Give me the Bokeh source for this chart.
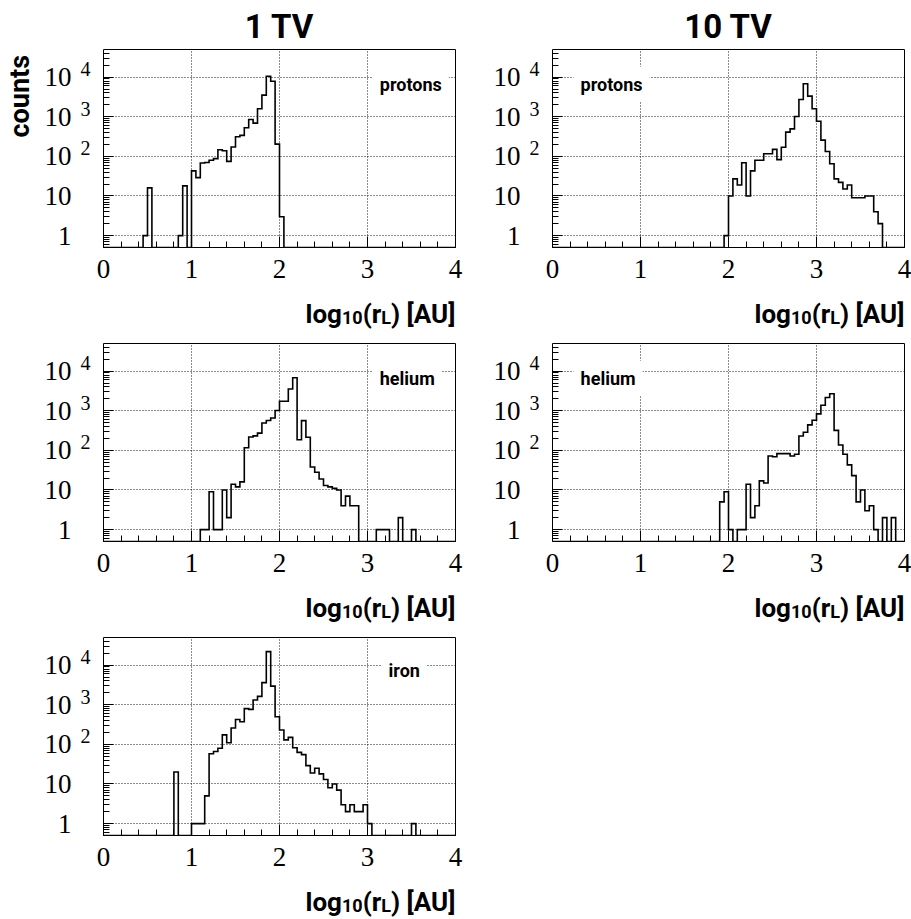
import glob
import math

import numpy as np
from bokeh.embed import file_html
from bokeh.layouts import column, row
from bokeh.models import FixedTicker, Label, LogAxis, LogScale, Range1d, SingleIntervalTicker
from bokeh.plotting import figure
from bokeh.resources import INLINE

# Binning of log10(r_L / AU): 80 bins of width 0.05 between 0 and 4
X_MIN, X_MAX, N_BINS = 0.0, 4.0, 80
Y_MIN, Y_MAX = 0.5, 5e4

# Counts per bin (bin 0 starts at log10(r_L) = 0)
protons_1tv = [
    0, 0, 0, 0, 0, 0, 0, 0, 0, 1,
    16, 0, 0, 0, 0, 0, 0, 1, 18, 0,
    43, 29, 68, 70, 80, 88, 147, 139, 75, 172,
    313, 340, 530, 855, 690, 1590, 3520, 10600, 7900, 204,
    3, 0, 0, 0, 0, 0, 0, 0, 0, 0,
    0, 0, 0, 0, 0, 0, 0, 0, 0, 0,
    0, 0, 0, 0, 0, 0, 0, 0, 0, 0,
    0, 0, 0, 0, 0, 0, 0, 0, 0, 0,
]
protons_10tv = [
    0, 0, 0, 0, 0, 0, 0, 0, 0, 0,
    0, 0, 0, 0, 0, 0, 0, 0, 0, 0,
    0, 0, 0, 0, 0, 0, 0, 0, 0, 0,
    0, 0, 0, 0, 0, 0, 0, 0, 0, 1,
    10, 27, 19, 69, 10, 43, 80, 80, 117, 117,
    150, 83, 170, 410, 495, 1020, 2740, 6800, 3320, 1600,
    770, 258, 133, 65, 27, 22, 15, 19, 9, 9,
    9, 10, 10, 4, 2, 0, 0, 0, 0, 0,
]
helium_1tv = [
    0, 0, 0, 0, 0, 0, 0, 0, 0, 0,
    0, 0, 0, 0, 0, 0, 0, 0, 0, 0,
    0, 0, 1, 1, 9, 1, 1, 10, 2, 14,
    12, 16, 117, 217, 232, 272, 490, 568, 655, 1020,
    1735, 1735, 3540, 6850, 186, 565, 215, 38, 28, 19,
    13, 12, 11, 10, 4, 7, 4, 4, 0, 0,
    0, 0, 1, 1, 1, 0, 0, 2, 0, 0,
    1, 0, 0, 0, 0, 0, 0, 0, 0, 0,
]
helium_10tv = [
    0, 0, 0, 0, 0, 0, 0, 0, 0, 0,
    0, 0, 0, 0, 0, 0, 0, 0, 0, 0,
    0, 0, 0, 0, 0, 0, 0, 0, 0, 0,
    0, 0, 0, 0, 0, 0, 0, 0, 5, 9,
    1, 0, 1, 1, 14, 2, 4, 17, 15, 72,
    69, 83, 83, 83, 72, 80, 230, 288, 440, 575,
    835, 1380, 2170, 2690, 320, 137, 80, 43, 23, 5,
    10, 3, 4, 1, 0, 2, 0, 2, 0, 0,
]
iron_1tv = [
    0, 0, 0, 0, 0, 0, 0, 0, 0, 0,
    0, 0, 0, 0, 0, 0, 20, 0, 0, 0,
    1, 1, 1, 5, 58, 66, 80, 174, 110, 260,
    425, 372, 800, 765, 1320, 1630, 3620, 22000, 2950, 500,
    230, 130, 150, 82, 63, 55, 29, 19, 25, 18,
    13, 8, 10, 7, 3, 2, 3, 2, 2, 3,
    1, 0, 0, 0, 0, 0, 0, 0, 0, 0,
    1, 0, 0, 0, 0, 0, 0, 0, 0, 0,
]

column_titles = ["1 TV", "10 TV"]
species = ["protons", "helium", "iron"]
y_major_ticks = [1, 10, 100, 1000, 10000]
y_label_base = {1: "1", 10: "10", 100: "10", 1000: "10", 10000: "10"}
y_label_exponent = {100: "2", 1000: "3", 10000: "4"}
x_title_pieces = [("log", False), ("10", True), ("(r", False), ("L", True), (") [AU]", False)]
y_title = "counts"

SANS = "Roboto"
SERIF = "Liberation Serif"

# page geometry (pixels)
FRAME_W, FRAME_H = 352, 198
COL_LEFT = [103, 87]          # left border of each column's panel
COL_RIGHT = [10, 7]
TOP_FIRST, TOP_OTHER, BOTTOM = 49, 13, 45
STRIP_H = [38, 38, 39]        # strip under each row holding the x titles
COUNTS_W = 40                 # strip left of the first panel holding "counts"
PX_PER_DECADE = FRAME_H / math.log10(Y_MAX / Y_MIN)


def _font_file():
    for pat in ("/usr/share/fonts/**/Roboto-Bold.ttf",
                "/usr/share/fonts/**/Roboto*Bold*.ttf",
                "/usr/local/share/fonts/**/Roboto*Bold*.ttf",
                "/usr/share/fonts/**/Roboto*.ttf"):
        hits = sorted(glob.glob(pat, recursive=True))
        if hits:
            return hits[0]
    return None


_FONT_PATH = _font_file()


def text_width(txt, size):
    try:
        from PIL import ImageFont
        return ImageFont.truetype(_FONT_PATH, size).getlength(txt)
    except Exception:
        return 0.56 * size * len(txt)


def blank(w, h):
    """A plain white canvas measured in pixels, used to hold free text."""
    d = figure(frame_width=w, frame_height=h, x_range=Range1d(0, w), y_range=Range1d(0, h),
               x_axis_location=None, y_axis_location=None,
               output_backend="svg", toolbar_location=None, min_border=0,
               outline_line_color=None, background_fill_color="white",
               border_fill_color="white")
    try:
        d.title = None
    except Exception:
        d.title.visible = False
    d.grid.visible = False
    return d


def style_axis(ax, size, standoff):
    ax.axis_line_color = None
    ax.major_label_text_font = SERIF
    ax.major_label_text_font_size = f"{size}px"
    ax.major_label_text_color = "black"
    ax.major_label_standoff = standoff


def make_panel(counts, name, col, row_idx):
    top = TOP_FIRST if row_idx == 0 else TOP_OTHER
    left = COL_LEFT[col] - (COUNTS_W if (col == 0 and row_idx == 0) else 0)
    p = figure(frame_width=FRAME_W, frame_height=FRAME_H,
               x_range=Range1d(X_MIN, X_MAX), y_range=Range1d(Y_MIN, Y_MAX),
               y_axis_type="log", output_backend="svg", toolbar_location=None,
               min_border_left=left, min_border_right=COL_RIGHT[col],
               min_border_top=top, min_border_bottom=BOTTOM,
               background_fill_color="white", border_fill_color="white",
               outline_line_color="black", outline_line_width=1)

    if row_idx == 0:
        p.title.text = column_titles[col]
        p.title.align = "center"
        p.title.text_font = SANS
        p.title.text_font_style = "bold"
        p.title.text_font_size = "33px"
        p.title.text_color = "black"
        p.title.standoff = 7

    # x axis: integer labels, ticks drawn inside the frame
    xa = p.xaxis[0]
    xa.ticker = SingleIntervalTicker(interval=1, num_minor_ticks=5)
    xa.major_tick_in, xa.major_tick_out = 11, 0
    xa.minor_tick_in, xa.minor_tick_out = 6, 0
    xa.major_tick_line_color = "black"
    xa.minor_tick_line_color = "black"
    style_axis(xa, 27, 12)

    # y axis: tick marks only; labels come from the two outer axes
    minor = []
    for decade in (0.1, 1, 10, 100, 1000, 10000):
        for k in range(2, 10):
            v = k * decade
            if Y_MIN < v < Y_MAX and v not in y_major_ticks:
                minor.append(v)
    ya = p.yaxis[0]
    ya.ticker = FixedTicker(ticks=y_major_ticks, minor_ticks=minor)
    ya.major_label_overrides = {v: "" for v in y_major_ticks}
    ya.major_tick_in, ya.major_tick_out = 10, 0
    ya.minor_tick_in, ya.minor_tick_out = 6, 0
    ya.major_tick_line_color = "black"
    ya.minor_tick_line_color = "black"
    style_axis(ya, 27, 0)

    # exponents, raised above their decade
    raise_dec = 8 / PX_PER_DECADE
    p.extra_y_ranges = {"exp": Range1d(Y_MIN * 10 ** -raise_dec, Y_MAX * 10 ** -raise_dec)}
    p.extra_y_scales = {"exp": LogScale()}
    exp_axis = LogAxis(y_range_name="exp",
                       ticker=FixedTicker(ticks=list(y_label_exponent)),
                       major_label_overrides=y_label_exponent,
                       major_tick_in=0, major_tick_out=0,
                       minor_tick_in=0, minor_tick_out=0)
    style_axis(exp_axis, 20, 13)
    p.add_layout(exp_axis, "left")

    base_axis = LogAxis(ticker=FixedTicker(ticks=y_major_ticks),
                        major_label_overrides=y_label_base,
                        major_tick_in=0, major_tick_out=0,
                        minor_tick_in=0, minor_tick_out=0)
    style_axis(base_axis, 27, 6)
    p.add_layout(base_axis, "left")

    for g in (p.xgrid[0], p.ygrid[0]):
        g.grid_line_color = "black"
        g.grid_line_dash = "1 2"
        g.grid_line_width = 1
        g.grid_line_alpha = 0.9

    # histogram outline; empty bins sit on the lower edge of the frame
    edges = np.linspace(X_MIN, X_MAX, N_BINS + 1)
    c = np.asarray(counts, dtype=float)
    c = np.where(c > 0, c, Y_MIN)
    xs = np.concatenate([[edges[0]], np.repeat(edges, 2)[1:-1], [edges[-1]]])
    ys = np.concatenate([[Y_MIN], np.repeat(c, 2), [Y_MIN]])
    p.line(xs, ys, line_color="black", line_width=1.6, line_join="miter")

    # species tag on a white box
    if name == "iron":
        tag_x, tag_y = 3.16, 10 ** 3.87
    else:
        tag_x = 3.06 if col == 0 else 0.24
        tag_y = 10 ** 3.82
    p.add_layout(Label(x=tag_x, y=tag_y, text=name, text_font=SANS,
                       text_font_style="bold", text_font_size="18px",
                       text_color="black", text_align="left",
                       text_baseline="alphabetic", background_fill_color="white",
                       padding=7))
    return p


def x_title_strip(n_cols, height, baseline):
    """Strip below a row of panels: log10(r_L) [AU] right-aligned to each frame."""
    s = blank(911, height)
    main, sub, drop = 26, 18, 4
    for col in range(n_cols):
        right = COL_LEFT[0] + FRAME_W if col == 0 else (
            COL_LEFT[0] + FRAME_W + COL_RIGHT[0] + COL_LEFT[1] + FRAME_W)
        sizes = [sub if is_sub else main for _, is_sub in x_title_pieces]
        total = sum(text_width(t, sz) for (t, _), sz in zip(x_title_pieces, sizes))
        x = right - total
        for (t, is_sub), sz in zip(x_title_pieces, sizes):
            s.add_layout(Label(x=x, y=baseline - (drop if is_sub else 0), text=t,
                               text_font=SANS, text_font_style="bold",
                               text_font_size=f"{sz}px", text_color="black",
                               text_align="left", text_baseline="alphabetic"))
            x += text_width(t, sz)
    return s


p1 = make_panel(protons_1tv, species[0], 0, 0)
p2 = make_panel(protons_10tv, species[0], 1, 0)
p3 = make_panel(helium_1tv, species[1], 0, 1)
p4 = make_panel(helium_10tv, species[1], 1, 1)
p5 = make_panel(iron_1tv, species[2], 0, 2)

# "counts" reads upwards, ending near the top of the first panel
row1_h = TOP_FIRST + FRAME_H + BOTTOM
counts_strip = blank(COUNTS_W, row1_h)
counts_strip.add_layout(Label(x=19, y=204, angle=math.pi / 2, text=y_title,
                              text_font=SANS, text_font_style="bold",
                              text_font_size="27px", text_color="black",
                              text_align="left", text_baseline="alphabetic"))

layout = column(
    row(counts_strip, p1, p2),
    x_title_strip(2, STRIP_H[0], 17),
    row(p3, p4),
    x_title_strip(2, STRIP_H[1], 17),
    row(p5),
    x_title_strip(1, STRIP_H[2], 18),
)

with open("out.html", "w") as f:
    f.write(file_html(layout, INLINE))
